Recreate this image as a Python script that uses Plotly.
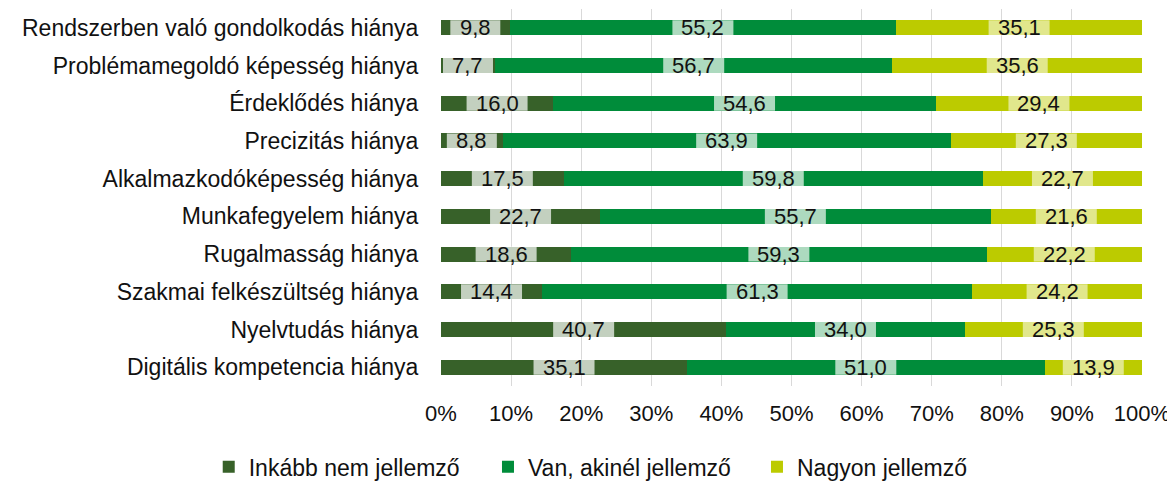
import plotly.graph_objects as go

# Data
categories = [
    "Rendszerben való gondolkodás hiánya",
    "Problémamegoldó képesség hiánya",
    "Érdeklődés hiánya",
    "Precizitás hiánya",
    "Alkalmazkodóképesség hiánya",
    "Munkafegyelem hiánya",
    "Rugalmasság hiánya",
    "Szakmai felkészültség hiánya",
    "Nyelvtudás hiánya",
    "Digitális kompetencia hiánya",
]
inkabb_nem = [9.8, 7.7, 16.0, 8.8, 17.5, 22.7, 18.6, 14.4, 40.7, 35.1]
van_akinel = [55.2, 56.7, 54.6, 63.9, 59.8, 55.7, 59.3, 61.3, 34.0, 51.0]
nagyon = [35.1, 35.6, 29.4, 27.3, 22.7, 21.6, 22.2, 24.2, 25.3, 13.9]

series_names = ["Inkább nem jellemző", "Van, akinél jellemző", "Nagyon jellemző"]
series_values = [inkabb_nem, van_akinel, nagyon]
colors = ["#376129", "#008C3A", "#BCCB00"]
label_bg = ["rgba(255,255,255,0.70)", "rgba(255,255,255,0.68)", "rgba(255,255,255,0.55)"]

FONT = "Liberation Sans, Arial, sans-serif"
TXT = "#111111"
BAR_WIDTH = 0.4
PX_PER_UNIT = 7.01  # plot width / 100

# one legend per series so each entry sits where the original has it
legend_ids = ["legend", "legend2", "legend3"]
legend_x = [0.172, 0.4113, 0.6418]

fig = go.Figure()
for name, vals, col, lid in zip(series_names, series_values, colors, legend_ids):
    fig.add_trace(go.Bar(
        y=categories, x=vals, name=name, orientation="h",
        marker=dict(color=col, line=dict(width=0)),
        width=BAR_WIDTH, legend=lid,
    ))

# value labels with light boxes, placed at the middle of each (normalised) segment
shapes = []
annotations = []
for i, cat in enumerate(categories):
    row = [s[i] for s in series_values]
    total = sum(row)
    start = 0.0
    for k, v in enumerate(row):
        seg = v / total * 100
        mid = start + seg / 2
        txt = f"{v:.1f}".replace(".", ",")
        ndig = sum(c.isdigit() for c in txt)
        half_w = (11 * ndig + 28) / PX_PER_UNIT / 2
        shapes.append(dict(
            type="rect", xref="x", yref="y", layer="above",
            x0=mid - half_w, x1=mid + half_w,
            y0=i - BAR_WIDTH / 2, y1=i + BAR_WIDTH / 2,
            fillcolor=label_bg[k], line=dict(width=0),
        ))
        annotations.append(dict(
            x=mid, y=cat, xref="x", yref="y", text=txt, showarrow=False,
            font=dict(family=FONT, size=22, color=TXT),
        ))
        start += seg

legend_style = dict(
    orientation="h", xanchor="left", xref="container",
    yref="container", y=0.032, yanchor="middle",
    font=dict(family=FONT, size=23, color=TXT),
    itemwidth=30, bgcolor="rgba(0,0,0,0)",
)

# the page body is offset by 8px, so the figure is sized to end at the window edge
fig.update_layout(
    barmode="stack",
    barnorm="percent",
    width=1167, height=474,
    margin=dict(l=433, r=33, t=1, b=96),
    plot_bgcolor="white", paper_bgcolor="white",
    font=dict(family=FONT, size=22, color=TXT),
    shapes=shapes,
    annotations=annotations,
    showlegend=True,
)
for lid, lx in zip(legend_ids, legend_x):
    fig.update_layout({lid: dict(legend_style, x=lx)})

fig.update_xaxes(
    range=[0, 100], tickvals=list(range(0, 101, 10)),
    ticktext=[f"{v}%" for v in range(0, 101, 10)],
    showgrid=True, gridcolor="#d9d9d9", gridwidth=1, zeroline=False,
    ticks="outside", ticklen=8, tickcolor="rgba(0,0,0,0)",
    tickfont=dict(family=FONT, size=22, color=TXT),
    showline=False, fixedrange=True, automargin=False,
)
fig.update_yaxes(
    autorange="reversed", showgrid=False, zeroline=False,
    ticks="outside", ticklen=17, tickcolor="rgba(0,0,0,0)",
    tickfont=dict(family=FONT, size=23, color=TXT),
    showline=False, automargin=False,
)

fig.write_html("out.html")
